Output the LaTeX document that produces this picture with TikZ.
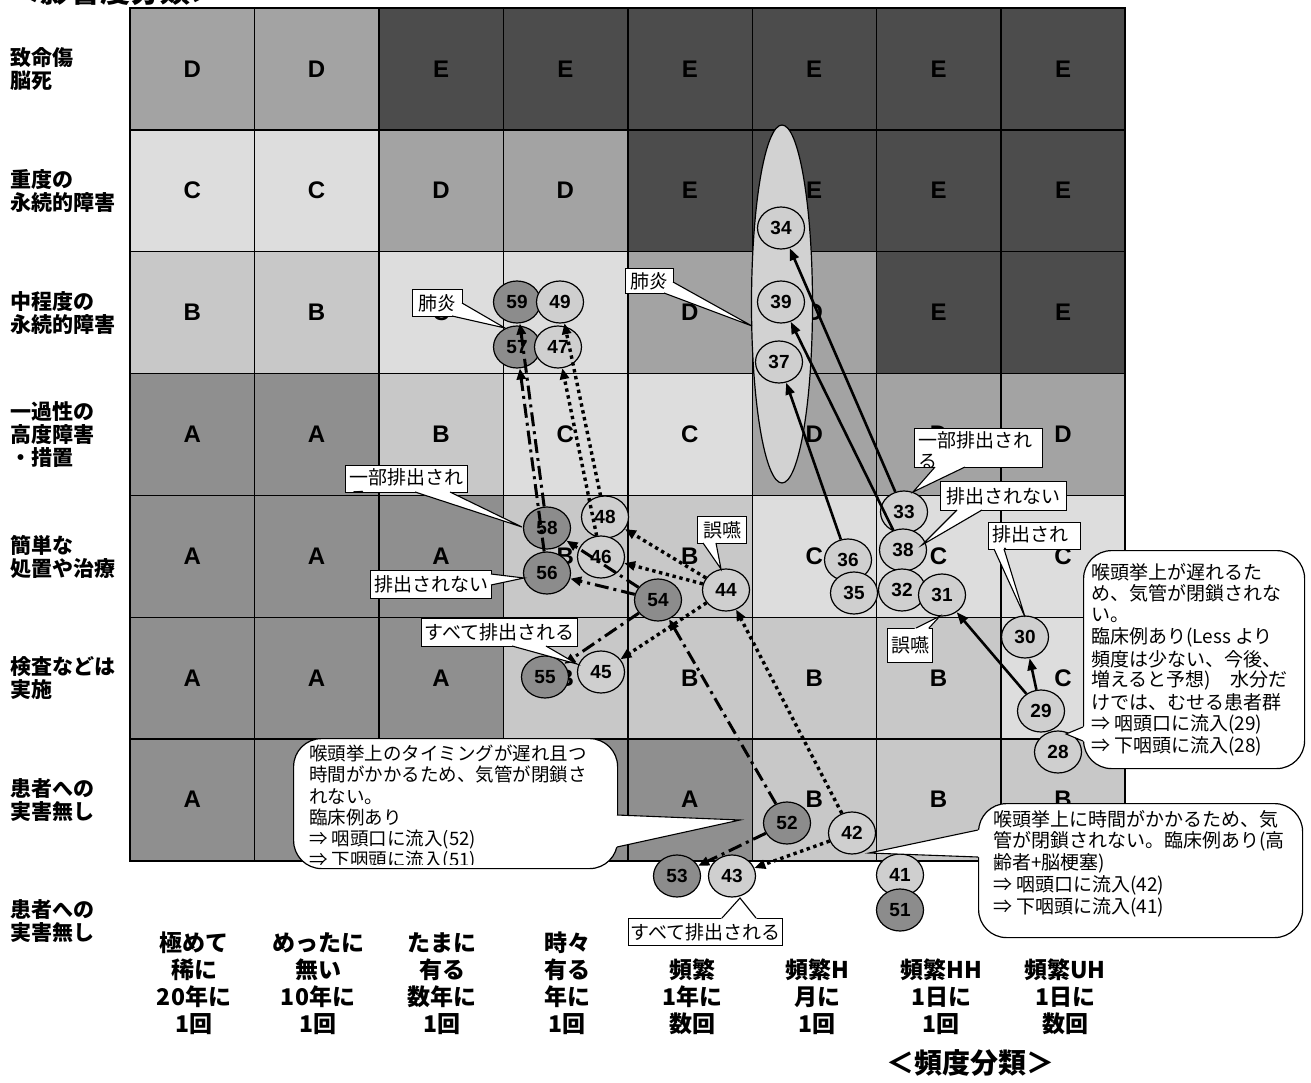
\documentclass[tikz,border=0pt]{standalone}
\usepackage{fontspec}
\setmainfont{Noto Sans CJK JP}
\newfontfamily\lat{Liberation Sans}
\usetikzlibrary{shapes.geometric,arrows.meta,calc}
\definecolor{gA}{HTML}{8F8F8F}
\definecolor{gB}{HTML}{C8C8C8}
\definecolor{gC}{HTML}{DDDDDD}
\definecolor{gD}{HTML}{A3A3A3}
\definecolor{gE}{HTML}{4C4C4C}
\definecolor{circL}{HTML}{CFCFCF}
\definecolor{circD}{HTML}{8C8C8C}
\definecolor{ellF}{HTML}{D2D2D2}
\newcommand\jtxt{\fontsize{19}{21.6}\selectfont}
\newcommand\gridrow[2]{\foreach \g [count=\c] in {#2} {\node[cell, fill=g\g] (r#1c\c) at ({130+(\c-0.5)*124.4},{8+(#1+0.5)*121.8}) {\g};}}
\newcommand\callwedge[3]{\fill[white] ($#1!-3pt!#2$) -- #2 -- ($#3!-3pt!#2$) -- cycle; \draw[line width=1.1pt] #1 -- #2 -- #3;}
\newcommand\cliplabel[6]{%
  \node[lbl, anchor=north west, minimum width=#4 pt, minimum height=#5 pt] (#1) at (#2,#3) {};
  \begin{scope}\clip (#2+0.6,#3+0.6) rectangle ++(#4-1.2,#5-1.2);
  \node[anchor=north west, align=left, inner sep=0pt, font=\jtxt] (#1t) at ({#2+4},{#3+3}) {#6};
  \end{scope}}
\begin{document}
\begin{tikzpicture}[x=1pt,y=-1pt,
  cell/.style={rectangle, draw=none, minimum width=124.4pt, minimum height=121.8pt, inner sep=0pt, font=\lat\bfseries\fontsize{24}{24}\selectfont},
  gridline/.style={line width=1.4pt, black},
  rowlbl/.style={anchor=west, align=left, inner sep=0pt, font=\bfseries\fontsize{21}{23}\selectfont},
  collbl/.style={align=center, inner sep=0pt, font=\bfseries\fontsize{23}{27}\selectfont},
  lc/.style={ellipse, draw, line width=1.2pt, fill=circL, minimum width=47pt, minimum height=42pt, inner sep=0pt, font=\lat\bfseries\fontsize{19}{19}\selectfont},
  dc/.style={lc, fill=circD},
  sarr/.style={line width=2.6pt, -{Triangle[length=12pt,width=9pt]}},
  dotarr/.style={line width=3.4pt, dash pattern=on 3.4pt off 3.6pt, -{Triangle[length=11pt,width=9pt]}},
  ddarr/.style={line width=3pt, dash pattern=on 14pt off 5pt on 3pt off 5pt, -{Triangle[length=11pt,width=9pt]}},
  lbl/.style={rectangle, draw, fill=white, line width=1.1pt, inner sep=0pt, font=\jtxt},
  rcall/.style={rectangle, draw, fill=white, line width=1.2pt, rounded corners=28pt, inner sep=0pt},
  ctxt/.style={anchor=west, inner sep=0pt, font=\jtxt}]
\useasboundingbox (0,0) rectangle (1311,1083);
\clip (0,0) rectangle (1311,1083);
\fill[white] (0,0) rectangle (1311,1083);
% title (cut at top)
\node[anchor=base west, inner sep=0pt, font=\bfseries\fontsize{30}{30}\selectfont] (ttl) at (10,3) {＜影響度分類＞};
% grid
\gridrow{0}{D,D,E,E,E,E,E,E}
\gridrow{1}{C,C,D,D,E,E,E,E}
\gridrow{2}{B,B,C,C,D,D,E,E}
\gridrow{3}{A,A,B,C,C,D,D,D}
\gridrow{4}{A,A,A,B,B,C,C,C}
\gridrow{5}{A,A,A,B,B,B,B,C}
\gridrow{6}{A,A,A,A,A,B,B,B}
\foreach \i in {1,...,7} \draw[gridline] (r0c\i.north east) -- (r6c\i.south east);
\foreach \j in {0,...,5} \draw[gridline] (r\j c1.south west) -- (r\j c8.south east);
\draw[line width=2pt] (r0c1.north west) rectangle (r6c8.south east);
% row labels
\node[rowlbl] (rl1) at (10,69) {致命傷\\脳死};
\node[rowlbl] (rl2) at (10,191) {重度の\\永続的障害};
\node[rowlbl] (rl3) at (10,313) {中程度の\\永続的障害};
\node[rowlbl] (rl4) at (10,435) {一過性の\\高度障害\\・措置};
\node[rowlbl] (rl5) at (10,557) {簡単な\\処置や治療};
\node[rowlbl] (rl6) at (10,678) {検査などは\\実施};
\node[rowlbl] (rl7) at (10,800) {患者への\\実害無し};
\node[rowlbl] (rl8) at (10,921) {患者への\\実害無し};
% column labels
\node[collbl] (cl1) at (194,983.5) {極めて\\稀に\\20年に\\1回};
\node[collbl] (cl2) at (318,983.5) {めったに\\無い\\10年に\\1回};
\node[collbl] (cl3) at (442,983.5) {たまに\\有る\\数年に\\1回};
\node[collbl] (cl4) at (567,983.5) {時々\\有る\\年に\\1回};
\node[collbl] (cl5) at (692,997) {頻繁\\1年に\\数回};
\node[collbl] (cl6) at (817,997) {頻繁H\\月に\\1回};
\node[collbl] (cl7) at (941,997) {頻繁HH\\1日に\\1回};
\node[collbl] (cl8) at (1065,997) {頻繁UH\\1日に\\数回};
\node[inner sep=0pt, font=\bfseries\fontsize{28}{28}\selectfont] (ftitle) at (970,1063) {＜頻度分類＞};
% big ellipse
\node[ellipse, draw, line width=1.2pt, fill=ellF, minimum width=61pt, minimum height=358pt, inner sep=0pt] (ell) at (782,304) {};
% circles
\node[dc] (c59) at (517,302) {59};
\node[lc] (c49) at (560,302) {49};
\node[dc] (c57) at (517,347) {57};
\node[lc] (c47) at (558,347) {47};
\node[dc] (c58) at (547,528) {58};
\node[dc] (c56) at (547,573) {56};
\node[lc] (c48) at (605,517) {48};
\node[lc] (c46) at (601,557) {46};
\node[dc] (c55) at (545,677) {55};
\node[lc] (c45) at (601,672) {45};
\node[dc] (c54) at (658,600) {54};
\node[lc] (c44) at (726,590) {44};
\node[lc] (c33) at (904,512) {33};
\node[lc] (c38) at (903,550) {38};
\node[lc] (c32) at (902,590) {32};
\node[lc] (c31) at (942,595) {31};
\node[lc] (c36) at (848,560) {36};
\node[lc] (c35) at (854,593) {35};
\node[lc] (c30) at (1025,637) {30};
\node[lc] (c29) at (1041,711) {29};
\node[lc] (c28) at (1058,752) {28};
\node[lc] (c41) at (900,875) {41};
\node[dc] (c51) at (900,910) {51};
\node[lc] (c42) at (852,833) {42};
\node[dc] (c52) at (787,823) {52};
\node[lc] (c43) at (732,876) {43};
\node[dc] (c53) at (677,876) {53};
\node[lc] (c34) at (781,228) {34};
\node[lc] (c39) at (781,302) {39};
\node[lc] (c37) at (779,362) {37};
% arrows
\draw[sarr] (c33) -- (c34);
\draw[sarr] (c38) -- (c39);
\draw[sarr] (c36) -- (c37);
\draw[sarr] (c29) -- (c30);
\draw[sarr] (c29) -- (c31);
\draw[dotarr] (c44) -- (c48);
\draw[dotarr] (c44) -- (c46);
\draw[dotarr] (c44) -- (c45);
\draw[dotarr] (c42) -- (c44);
\draw[dotarr] (c42) -- (c43);
\draw[dotarr] (c46) -- (c47);
\draw[dotarr] (c48) -- (c49);
\draw[ddarr] (c52) -- (c54);
\draw[ddarr] (c52) -- (c53);
\draw[ddarr] (c54) -- (c56);
\draw[ddarr] (c54) -- (c55);
\draw[ddarr] (c54) -- (c58);
\draw[ddarr] (c56) -- (c57);
\draw[ddarr] (c58) -- (c59);
% rectangular labels
\node[lbl, anchor=north west, minimum width=50pt, minimum height=27pt] (L1) at (412,289) {肺炎};
\callwedge{(462,303)}{(505,328)}{(452,316)}
\node[lbl, anchor=north west, minimum width=48pt, minimum height=25pt] (L2) at (625,268) {肺炎};
\callwedge{(673,282)}{(752,326)}{(664,293)}
\cliplabel{L3}{345}{465}{122}{27}{一部排出され\\る}
\callwedge{(415,492)}{(522,527)}{(450,492)}
\node[lbl, anchor=north west, minimum width=121pt, minimum height=28pt] (L4) at (370,570) {排出されない};
\callwedge{(491,574)}{(524,578)}{(491,585)}
\node[lbl, anchor=north west, minimum width=156pt, minimum height=28pt] (L5) at (421,618) {すべて排出される};
\callwedge{(512,646)}{(577,664)}{(546,646)}
\node[lbl, anchor=north west, minimum width=49pt, minimum height=27pt] (L6) at (697,516) {誤嚥};
\callwedge{(703,543)}{(721,569)}{(716,543)}
\cliplabel{L7}{914}{428}{128}{39}{一部排出され\\る}
\callwedge{(935,467)}{(913,492)}{(965,467)}
\node[lbl, anchor=north west, minimum width=126pt, minimum height=29pt] (L8) at (940,481) {排出されない};
\callwedge{(957,510)}{(922,545)}{(982,510)}
\cliplabel{L9}{988}{522}{92}{27}{排出され\\る}
\callwedge{(994,549)}{(1025,617)}{(1004,549)}
\node[lbl, anchor=north west, minimum width=45pt, minimum height=34pt] (L10) at (887,628) {誤嚥};
\callwedge{(916,628)}{(940,616)}{(929,628)}
\node[lbl, anchor=north west, minimum width=154pt, minimum height=27pt] (L11) at (628,918) {すべて排出される};
\callwedge{(722,918)}{(740,898)}{(756,918)}
% rounded callout A
\node[rcall, anchor=north west, minimum width=324pt, minimum height=130pt] (calA) at (293,738) {};
\callwedge{(617,815)}{(740,820)}{(617,847)}
\begin{scope}
\clip (294,739) rectangle (616,864);
\foreach \t [count=\i] in {{喉頭挙上のタイミングが遅れ且つ},{時間がかかるため、気管が閉鎖さ},{れない。},{臨床例あり},{⇒ 咽頭口に流入(52)},{⇒ 下咽頭に流入(51)}}
  \node[ctxt, font=\fontsize{18.5}{21}\selectfont] (ta\i) at (309,{753+(\i-1)*21.6}) {\t};
\end{scope}
% rounded callout B
\node[rcall, anchor=north west, minimum width=221pt, minimum height=218pt] (calB) at (1083,550) {};
\callwedge{(1083,727)}{(1066,734)}{(1083,741)}
\foreach \t [count=\i] in {{喉頭挙上が遅れるた},{め、気管が閉鎖されな},{い。},{臨床例あり(Less より},{頻度は少ない、今後、},{増えると予想)　水分だ},{けでは、むせる患者群},{⇒ 咽頭口に流入(29)},{⇒ 下咽頭に流入(28)}}
  \node[ctxt] (tb\i) at (1091,{572+(\i-1)*21.75}) {\t};
% rounded callout C
\node[rcall, anchor=north west, minimum width=324pt, minimum height=134pt] (calC) at (978,803) {};
\callwedge{(978,830)}{(869,853)}{(978,857)}
\foreach \t [count=\i] in {{喉頭挙上に時間がかかるため、気},{管が閉鎖されない。臨床例あり(高},{齢者+脳梗塞)},{⇒ 咽頭口に流入(42)},{⇒ 下咽頭に流入(41)}}
  \node[ctxt] (tc\i) at (993,{819+(\i-1)*22.2}) {\t};
\end{tikzpicture}
\end{document}
